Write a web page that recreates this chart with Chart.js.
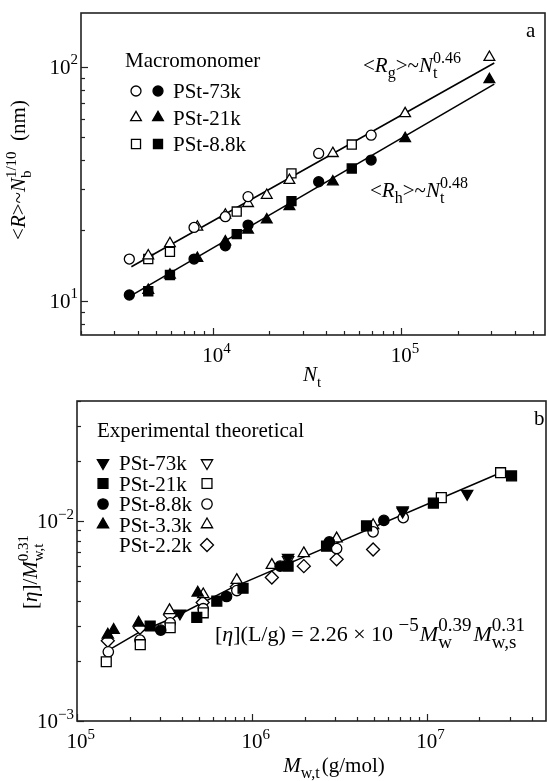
<!DOCTYPE html>
<html>
<head>
<meta charset="utf-8">
<script src="https://cdn.jsdelivr.net/npm/chart.js@4.4.0/dist/chart.umd.min.js"></script>
<style>
  body { margin: 0; background: #fff; }
  #wrap { position: relative; width: 548px; height: 781px; }
  canvas { position: absolute; left: 0; top: 0; }
</style>
</head>
<body>
<div id="wrap">
  <canvas id="chartA" width="548" height="781"></canvas>
  <canvas id="chartB" width="548" height="781"></canvas>
</div>
<script>
// ---- panel a: <R> vs Nt ----
const nt73 = [3610, 7960, 11670, 15400, 36500, 69300];
const rg73 = [15.1, 20.6, 22.9, 27.9, 42.7, 51.1];
const rh73 = [10.6, 15.1, 17.2, 21.1, 32.3, 40.0];
const nt21 = [4550, 5930, 8290, 11670, 15400, 19360, 25530, 43400, 105000, 294000];
const rg21 = [15.6, 17.6, 20.7, 23.3, 26.1, 28.3, 32.8, 42.7, 63.2, 110];
const rh21 = [11.1, 12.9, 15.2, 17.9, 20.1, 22.2, 25.3, 32.3, 49.5, 88.3];
const nt88 = [4550, 5930, 13410, 26180, 54700];
const rg88 = [15.1, 16.2, 24.1, 35.1, 46.6];
const rh88 = [11.0, 12.9, 19.3, 26.7, 36.8];
const fitRgNt = [3700, 312000];
const fitRg = [14.0, 104];
const fitRhNt = [3520, 312000];
const fitRh = [10.3, 84.4];
const tickLabelsA_x = [[1e4, '4'], [1e5, '5']];
const tickLabelsA_y = [[10, '1'], [100, '2']];

// ---- panel b: [eta]/Mw,t^0.31 vs Mw,t ----
const m73e = [3.88e5, 1.61e6, 7.27e6, 1.70e7];
const v73e = [0.00346, 0.00658, 0.01135, 0.01375];
const m73t = [1.61e6, 7.27e6];
const v73t = [0.0064, 0.0112];
const m21e = [2.62e5, 4.84e5, 6.3e5, 8.9e5, 1.61e6, 2.67e6, 4.52e6, 1.09e7, 3.05e7];
const v21e = [0.00299, 0.0033, 0.00398, 0.00462, 0.00596, 0.0075, 0.00948, 0.01233, 0.01687];
const m21t = [1.47e5, 2.3e5, 3.41e5, 5.27e5, 1.21e7, 2.64e7];
const v21t = [0.00198, 0.00241, 0.00293, 0.00348, 0.01313, 0.0175];
const m88e = [3.01e5, 7.16e5, 1.45e6, 2.77e6, 5.68e6];
const v88e = [0.00285, 0.0042, 0.00596, 0.00788, 0.0101];
const m88t = [1.51e5, 2.29e5, 3.41e5, 5.27e5, 8.2e5, 3.05e6, 4.93e6, 7.33e6];
const v88t = [0.00222, 0.00254, 0.0031, 0.00365, 0.0045, 0.0073, 0.00885, 0.01043];
const m33e = [1.5e5, 1.62e5, 2.25e5, 4.9e5];
const v33e = [0.0027, 0.00285, 0.0031, 0.00438];
const m33t = [3.38e5, 5.27e5, 8.19e5, 1.3e6, 1.98e6, 3.05e6, 4.93e6];
const v33t = [0.00358, 0.0043, 0.00507, 0.00603, 0.0069, 0.00819, 0.00955];
const m22t = [1.5e5, 2.29e5, 3.4e5, 5.23e5, 8.2e5, 1.3e6, 1.98e6, 3.05e6, 4.93e6];
const v22t = [0.00252, 0.00293, 0.0034, 0.00392, 0.0047, 0.00523, 0.00596, 0.00645, 0.00722];
const fitM = [1.5e5, 2.3e5, 3.5e5, 7.5e5, 2.64e7];
const fitV = [0.00225, 0.0028, 0.00327, 0.0046, 0.0175];
const tickLabelsB_x = [[1e5, '5'], [1e6, '6'], [1e7, '7']];
const tickLabelsB_y = [[1e-3, '\u22123'], [1e-2, '\u22122']];

const SERIF = '"Liberation Serif", "Times New Roman", serif';
const INK = '#000';

function font(size, italic) {
    return (italic ? 'italic ' : '') + size + 'px ' + SERIF;
}

function pts(xs, ys) {
    return xs.map((x, i) => ({ x: x, y: ys[i] }));
}

function markers(xs, ys, style, filled, r, rot) {
    return {
        data: pts(xs, ys),
        showLine: false,
        pointStyle: style,
        pointRadius: r,
        pointHoverRadius: r,
        pointRotation: rot || 0,
        pointBackgroundColor: filled ? INK : '#fff',
        pointBorderColor: INK,
        pointBorderWidth: 1.3,
    };
}

function fitLine(xs, ys) {
    return {
        data: pts(xs, ys),
        showLine: true,
        borderColor: INK,
        borderWidth: 1.6,
        pointRadius: 0,
        fill: false,
        order: 10,
    };
}

// rich text: {t, i} normal/italic run, {sub, sup} small stacked run
function drawRich(ctx, parts, x, y, S, align, small) {
    const s = small || Math.round(S * 0.72);
    let w = 0;
    const runs = [];
    parts.forEach((p) => {
        if (p.t !== undefined) {
            ctx.font = font(S, p.i);
            runs.push({ text: p.t, f: font(S, p.i), x: w, dy: 0 });
            w += ctx.measureText(p.t).width;
        } else {
            ctx.font = font(s, false);
            let pw = 0;
            if (p.sub) {
                runs.push({ text: p.sub, f: font(s), x: w, dy: S * 0.3 });
                pw = Math.max(pw, ctx.measureText(p.sub).width);
            }
            if (p.sup) {
                runs.push({ text: p.sup, f: font(s), x: w, dy: -S * 0.45 });
                pw = Math.max(pw, ctx.measureText(p.sup).width);
            }
            w += pw + (p.gap || 0);
        }
    });
    let x0 = x;
    if (align === 'center') x0 = x - w / 2;
    if (align === 'right') x0 = x - w;
    ctx.textAlign = 'left';
    ctx.textBaseline = 'alphabetic';
    ctx.fillStyle = INK;
    runs.forEach((r) => {
        ctx.font = r.f;
        ctx.fillText(r.text, x0 + r.x, y + r.dy);
    });
}

function legendMarker(ctx, style, x, y, r, filled, rot) {
    ctx.save();
    ctx.fillStyle = filled ? INK : '#fff';
    ctx.strokeStyle = INK;
    ctx.lineWidth = 1.3;
    Chart.helpers.drawPoint(ctx, { pointStyle: style, radius: r, rotation: rot || 0, borderWidth: 1.3 }, x, y);
    ctx.restore();
}

function minorVals(lo, hi) {
    const out = [];
    for (let d = Math.pow(10, Math.floor(Math.log10(lo))); d <= hi; d *= 10) {
        for (let k = 1; k <= 9; k++) {
            const v = k * d;
            if (v >= lo * 0.999 && v <= hi * 1.001) out.push({ v: v, major: k === 1 });
        }
    }
    return out;
}

function drawFrame(chart) {
    const ctx = chart.ctx;
    const a = chart.chartArea;
    const sx = chart.scales.x;
    const sy = chart.scales.y;
    ctx.save();
    ctx.strokeStyle = '#222';
    ctx.lineWidth = 1.6;
    ctx.strokeRect(a.left, a.top, a.right - a.left, a.bottom - a.top);
    ctx.lineWidth = 1.2;
    minorVals(sx.min, sx.max).forEach((t) => {
        const p = Math.round(sx.getPixelForValue(t.v)) + 0.5;
        const len = t.major ? 7 : 4;
        ctx.beginPath();
        ctx.moveTo(p, a.bottom);
        ctx.lineTo(p, a.bottom - len);
        ctx.stroke();
    });
    minorVals(sy.min, sy.max).forEach((t) => {
        const p = Math.round(sy.getPixelForValue(t.v)) + 0.5;
        const len = t.major ? 7 : 4;
        ctx.beginPath();
        ctx.moveTo(a.left, p);
        ctx.lineTo(a.left + len, p);
        ctx.stroke();
    });
    ctx.restore();
}

function tickLabels(chart, xs, ys, xBase) {
    const ctx = chart.ctx;
    const a = chart.chartArea;
    const S = 21;
    ctx.font = font(S);
    const w10 = ctx.measureText('10').width;
    xs.forEach(([v, e]) => {
        const p = chart.scales.x.getPixelForValue(v);
        drawRich(ctx, [{ t: '10' }, { sup: e }], p - w10 / 2, xBase, S, 'left');
    });
    ys.forEach(([v, e]) => {
        const p = chart.scales.y.getPixelForValue(v);
        drawRich(ctx, [{ t: '10' }, { sup: e }], a.left - 3, p + 7, S, 'right');
    });
}

function rotated(ctx, parts, x, y, S) {
    ctx.save();
    ctx.translate(x, y);
    ctx.rotate(-Math.PI / 2);
    drawRich(ctx, parts, 0, 0, S, 'center');
    ctx.restore();
}

const decorA = {
    id: 'decorA',
    beforeDatasetsDraw(chart) {
        drawFrame(chart);
    },
    afterDraw(chart) {
        const ctx = chart.ctx;
        tickLabels(chart, tickLabelsA_x, tickLabelsA_y, 362);
        drawRich(ctx, [{ t: 'N', i: true }, { sub: 't' }], 312, 381, 21, 'center');
        rotated(ctx, [{ t: '<' }, { t: 'R', i: true }, { t: '>~' }, { t: 'N', i: true }, { sub: 'b', sup: '1/10' }, { t: '  (nm)' }], 25, 170, 21);
        drawRich(ctx, [{ t: 'a' }], 526, 37, 21, 'left');
        drawRich(ctx, [{ t: 'Macromonomer' }], 125, 67, 21, 'left');
        const rows = [['PSt-73k', 'circle', 5], ['PSt-21k', 'triangle', 6.2], ['PSt-8.8k', 'rect', 6.4]];
        rows.forEach((r, i) => {
            const y = 91 + i * 26.5;
            legendMarker(ctx, r[1], 136, y, r[2], false);
            legendMarker(ctx, r[1], 158, y, r[2], true);
            drawRich(ctx, [{ t: r[0] }], 173, y + 7, 21, 'left');
        });
        drawRich(ctx, [{ t: '<' }, { t: 'R', i: true }, { sub: 'g' }, { t: '>~' }, { t: 'N', i: true }, { sub: 't', sup: '0.46' }], 363, 72, 21, 'left', 16);
        drawRich(ctx, [{ t: '<' }, { t: 'R', i: true }, { sub: 'h' }, { t: '>~' }, { t: 'N', i: true }, { sub: 't', sup: '0.48' }], 370, 197, 21, 'left', 16);
    },
};

const decorB = {
    id: 'decorB',
    beforeDatasetsDraw(chart) {
        drawFrame(chart);
    },
    afterDraw(chart) {
        const ctx = chart.ctx;
        tickLabels(chart, tickLabelsB_x, tickLabelsB_y, 748);
        drawRich(ctx, [{ t: 'M', i: true }, { sub: 'w,t', gap: 2 }, { t: '(g/mol)' }], 334, 772, 21, 'center', 16);
        rotated(ctx, [{ t: '[' }, { t: '\u03b7', i: true }, { t: ']/' }, { t: 'M', i: true }, { sub: 'w,t', sup: '0.31' }], 37, 572, 21);
        drawRich(ctx, [{ t: 'b' }], 534, 425, 21, 'left');
        drawRich(ctx, [{ t: 'Experimental theoretical' }], 97, 437, 21, 'left');
        const rows = [
            ['PSt-73k', 'triangle', 6.5, 180, true],
            ['PSt-21k', 'rect', 7, 0, true],
            ['PSt-8.8k', 'circle', 5.2, 0, true],
            ['PSt-3.3k', 'triangle', 6.5, 0, true],
            ['PSt-2.2k', 'rectRot', 6.5, 0, false],
        ];
        rows.forEach((r, i) => {
            const y = 463 + i * 20.5;
            if (r[4]) legendMarker(ctx, r[1], 103, y, r[2], true, r[3]);
            legendMarker(ctx, r[1], 207, y, r[2], false, r[3]);
            drawRich(ctx, [{ t: r[0] }], 119, y + 7, 21, 'left');
        });
        drawRich(ctx, [{ t: '[' }, { t: '\u03b7', i: true }, { t: '](L/g) = 2.26 \u00d7 10 ' }, { sup: '\u22125', gap: 1 }, { t: 'M', i: true }, { sub: 'w', sup: '0.39', gap: 2 }, { t: 'M', i: true }, { sub: 'w,s', sup: '0.31' }], 215, 641, 22, 'left', 19);
    },
};

const baseOptions = (pad, xr, yr) => ({
    responsive: false,
    animation: false,
    devicePixelRatio: 1,
    layout: { padding: pad, autoPadding: false },
    plugins: { legend: { display: false }, tooltip: { enabled: false } },
    scales: {
        x: { type: 'logarithmic', min: xr[0], max: xr[1], display: false },
        y: { type: 'logarithmic', min: yr[0], max: yr[1], display: false },
    },
});

const chartA = new Chart(document.getElementById('chartA'), {
    type: 'scatter',
    data: {
        datasets: [
            markers(nt73, rh73, 'circle', true, 5),
            markers(nt21, rh21, 'triangle', true, 6.2),
            markers(nt88, rh88, 'rect', true, 6.4),
            markers(nt73, rg73, 'circle', false, 5),
            markers(nt21, rg21, 'triangle', false, 6.2),
            markers(nt88, rg88, 'rect', false, 6.4),
            fitLine(fitRgNt, fitRg),
            fitLine(fitRhNt, fitRh),
        ],
    },
    options: baseOptions({ left: 81, top: 13, right: 3, bottom: 446 }, [2000, 5.8e5], [7.15, 170]),
    plugins: [decorA],
});

const chartB = new Chart(document.getElementById('chartB'), {
    type: 'scatter',
    data: {
        datasets: [
            markers(m73e, v73e, 'triangle', true, 6.5, 180),
            markers(m21e, v21e, 'rect', true, 7),
            markers(m88e, v88e, 'circle', true, 5.2),
            markers(m33e, v33e, 'triangle', true, 6.5),
            markers(m73t, v73t, 'triangle', false, 6.5, 180),
            markers(m21t, v21t, 'rect', false, 7),
            markers(m88t, v88t, 'circle', false, 5.2),
            markers(m33t, v33t, 'triangle', false, 6.5),
            markers(m22t, v22t, 'rectRot', false, 6.5),
            fitLine(fitM, fitV),
        ],
    },
    options: baseOptions({ left: 77, top: 401, right: 2, bottom: 60 }, [1e5, 4.8e7], [1e-3, 0.04]),
    plugins: [decorB],
});
</script>
</body>
</html>
